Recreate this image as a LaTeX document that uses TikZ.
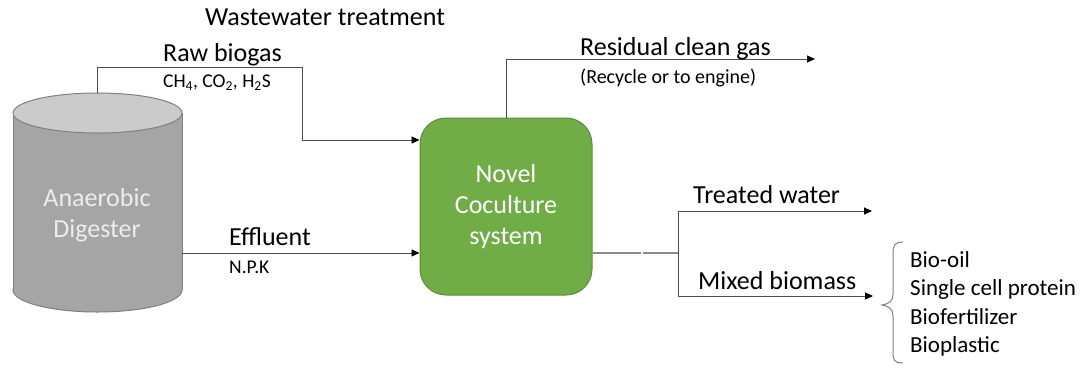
\documentclass[tikz,border=0pt]{standalone}
\usepackage{fontspec}
\setmainfont{Carlito}
\usetikzlibrary{arrows.meta}
\definecolor{drumbody}{HTML}{A5A5A5}
\definecolor{drumtop}{HTML}{CBCBCB}
\definecolor{drumedge}{HTML}{808080}
\definecolor{reactor}{HTML}{70AD47}
\definecolor{reactoredge}{HTML}{5B8C3A}
\definecolor{pipe}{HTML}{4D4D4D}
\definecolor{outpipe}{HTML}{8C8C8C}
\definecolor{drumtext}{HTML}{EDEDED}

\begin{document}
\begin{tikzpicture}[x=1pt,y=-1pt,
  flow/.style={draw=pipe, line width=0.9pt, -{Triangle[length=8pt,width=7pt,color=black]}},
  pipeline/.style={draw=outpipe, line width=1.1pt},
  lbig/.style={font=\fontsize{26}{31}\selectfont, anchor=base west, inner sep=0pt},
  lsmall/.style={font=\fontsize{19.5}{23}\selectfont, anchor=base west, inner sep=0pt},
]
\useasboundingbox (0,0) rectangle (1081,368);

% anaerobic digester drum
\filldraw[fill=drumbody, draw=drumedge, line width=1pt] (97.5,290) ellipse [x radius=84.5, y radius=22];
\fill[drumbody] (13,113) rectangle (182,290);
\draw[drumedge, line width=1pt] (13,113) -- (13,290) (182,113) -- (182,290);
\filldraw[fill=drumtop, draw=drumedge, line width=1pt] (97.5,113) ellipse [x radius=84.5, y radius=20];
\node[text=drumtext, align=center, font=\fontsize{26}{31}\selectfont] (ad) at (97,215) {Anaerobic\\Digester};
\coordinate (adtop) at (97,93);
\coordinate (adout) at (182,253);

% coculture reactor
\node[draw=reactoredge, fill=reactor, line width=1pt, rounded corners=26pt,
      minimum width=172pt, minimum height=177pt, text=white, align=center,
      font=\fontsize{26}{31}\selectfont] (ncs) at (506,206.5) {Novel\\Coculture\\system};

% raw biogas line
\coordinate (bg1) at (97,67);
\coordinate (bg2) at (302,67);
\coordinate (bg3) at (302,140);
\draw[flow] (adtop) -- (bg1) -- (bg2) -- (bg3) -- (bg3 -| ncs.west);

% effluent line
\draw[flow] (adout) -- (adout -| ncs.west);

% residual gas outlet
\coordinate (rg1) at (506,59);
\coordinate (rgend) at (815,59);
\draw[flow] (ncs.north) -- (rg1) -- (rgend);

% liquid outlet (two joined pipe pieces) and split
\coordinate (split) at (678,253);
\coordinate (joinA) at (641,253);
\coordinate (joinB) at (643,253);
\coordinate (tw1) at (678,211);
\coordinate (twend) at (872,211);
\coordinate (mb1) at (678,296);
\coordinate (mbend) at (873,296);
\draw[pipeline] (ncs.east |- split) -- (joinA);
\draw[pipeline] (joinB) -- (split);
\draw[flow] (split) -- (tw1) -- (twend);
\draw[flow] (split) -- (mb1) -- (mbend);

% labels
\node[lbig] (ww) at (205,25) {Wastewater treatment};
\node[lbig] (rb) at (163,61) {Raw biogas};
\node[lsmall] (gasmix) at (163,87) {CH\textsubscript{4}, CO\textsubscript{2}, H\textsubscript{2}S};
\node[lbig] (eff) at (229,245) {Effluent};
\node[lsmall] (npk) at (229,273) {N.P.K};
\node[lbig] (rcg) at (580,55) {Residual clean gas};
\node[lsmall, font=\fontsize{20}{24}\selectfont] (rcy) at (580,83) {(Recycle or to engine)};
\node[lbig] (tw) at (693,203) {Treated water};
\node[lbig] (mb) at (698,289) {Mixed biomass};

% products of the biomass
\draw[drumedge, line width=1pt] (903,242) .. controls (894,242) and (893,246) .. (893,254)
  -- (893,294) .. controls (893,301) and (889,304) .. (882,305)
  .. controls (889,306) and (893,309) .. (893,316)
  -- (893,352) .. controls (893,360) and (894,363) .. (903,363);
\node[font=\fontsize{23}{28.4}\selectfont, align=left, anchor=west, inner sep=0pt] (prod) at (910,304)
  {Bio-oil\\Single cell protein\\Biofertilizer\\Bioplastic};
\end{tikzpicture}
\end{document}
